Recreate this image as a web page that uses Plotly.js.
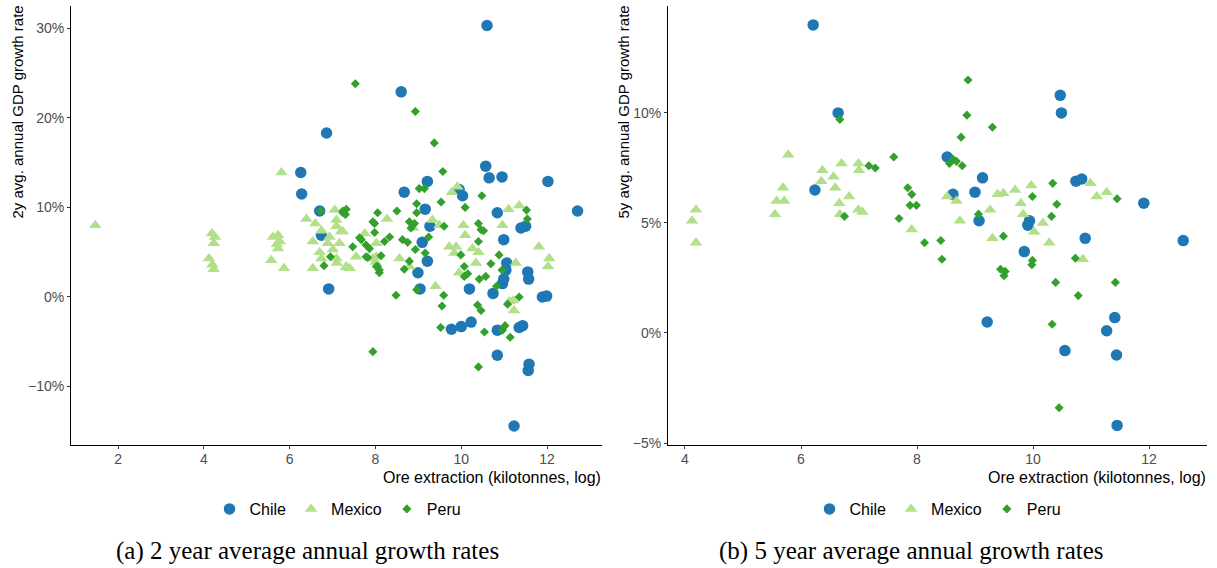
<!DOCTYPE html>
<html>
<head>
<meta charset="utf-8">
<script src="https://cdn.plot.ly/plotly-3.0.1.min.js"></script>
<style>
html,body{margin:0;padding:0;background:#fff;}
#chart{width:1217px;height:568px;}
</style>
</head>
<body>
<div id="chart"></div>
<script>
// ---- Panel (a): 2 year average annual GDP growth rate (%) vs ore extraction (log kt)
const chile2x = [10.60,8.60,6.86,6.26,6.28,6.70,6.74,6.91,8.67,9.21,10.57,10.65,10.95,12.02,12.71,9.16,10.03,9.95,10.84,11.39,11.50,9.27,9.09,10.99,9.21,8.99,11.06,11.04,10.99,10.96,11.55,11.57,10.19,10.74,11.89,11.99,9.04,9.77,10.00,10.23,10.84,11.35,11.43,10.84,11.58,11.56,11.23];
const chile2y = [30.3,22.9,18.3,13.9,11.5,9.6,6.9,0.9,11.7,12.9,14.6,13.3,13.4,12.9,9.6,9.8,11.3,12.0,9.4,7.7,7.9,7.9,6.1,6.4,4.0,2.7,3.8,3.0,2.0,1.5,2.8,2.0,0.9,0.4,0.0,0.1,0.9,-3.6,-3.3,-2.8,-3.7,-3.4,-3.2,-6.5,-7.5,-8.2,-14.4];

const mexico2x = [1.47,4.19,4.26,4.23,4.12,4.20,4.23,5.61,5.73,5.77,5.73,5.57,5.87,5.81,5.70,6.39,6.60,7.05,7.09,7.24,6.74,7.09,6.93,6.54,6.89,7.16,6.70,7.01,6.74,7.09,6.54,7.32,7.40,7.55,7.10,8.02,8.02,8.27,9.33,9.49,10.05,10.09,10.96,11.10,11.35,9.91,9.78,8.88,9.72,9.88,9.84,10.26,10.40,10.34,9.95,11.81,12.05,12.02,11.27,9.40,7.94,8.56,8.79,7.32,7.20,11.12,11.21,11.23,7.75,8.00];
const mexico2y = [8.0,7.1,6.7,6.0,4.3,3.6,3.1,6.7,6.9,6.2,5.4,4.1,3.2,13.9,5.9,8.7,8.2,9.7,8.6,7.3,7.4,7.9,6.7,6.2,6.0,6.0,5.0,5.3,4.3,4.3,3.2,3.3,3.2,4.5,3.8,6.0,4.5,8.7,8.6,8.0,8.0,6.9,8.0,9.8,10.2,12.3,11.7,7.7,5.6,5.6,4.9,5.4,5.0,3.8,2.7,5.6,4.3,3.4,3.8,1.2,4.3,4.3,3.4,3.4,7.3,-0.5,-0.4,-1.5,7.1,3.9];

const peru2x = [7.53,8.93,9.37,9.57,9.02,9.14,10.48,8.96,9.53,10.09,8.50,8.05,7.24,7.32,11.52,8.96,11.54,7.94,8.79,8.91,8.83,9.60,10.40,10.46,10.52,7.98,8.21,8.33,7.67,7.78,7.86,7.47,8.63,8.75,9.24,10.40,8.93,9.16,9.99,10.88,8.13,7.82,8.79,8.05,8.09,8.67,10.07,10.69,10.95,10.15,10.07,10.57,10.42,10.82,8.96,8.48,9.59,9.55,10.38,11.08,11.35,10.46,9.52,10.54,10.96,11.02,11.14,7.94,10.40,6.72,7.24,7.30,6.95,6.80,7.63,7.78,8.02,8.09,7.98];
const peru2y = [23.8,20.7,17.2,14.0,12.1,12.1,11.3,10.4,10.6,10.0,9.6,9.4,9.6,9.8,9.7,9.4,8.7,8.4,8.4,8.2,7.7,7.9,8.2,7.5,7.4,7.2,6.2,6.7,6.4,5.8,5.4,5.6,6.4,6.1,6.7,6.2,5.3,4.9,4.7,4.7,4.6,4.4,4.0,3.4,2.7,3.1,3.4,3.7,3.0,2.6,2.3,2.3,2.0,1.2,0.8,0.2,0.2,-1.0,-0.9,-0.8,0.0,-1.5,-3.4,-3.9,-3.7,-3.2,-4.5,-6.1,-7.8,9.6,9.4,9.2,4.5,3.5,6.6,4.5,3.4,3.0,8.2];

// ---- Panel (b): 5 year average annual GDP growth rate (%)
const chile5x = [6.21,6.64,6.24,8.52,8.62,10.47,10.49,9.13,9.00,9.07,9.94,9.91,10.74,10.84,11.91,12.59,10.90,9.85,9.21,11.41,11.27,10.55,11.44,11.45];
const chile5y = [14.0,10.0,6.5,8.0,6.3,10.8,10.0,7.05,6.4,5.1,5.1,4.9,6.9,7.0,5.9,4.2,4.3,3.7,0.5,0.7,0.1,-0.8,-1.0,-4.2];

const mexico5x = [4.19,4.12,4.19,5.78,5.69,5.58,5.71,5.55,6.37,6.35,6.56,6.59,6.70,6.99,7.00,6.83,6.66,6.67,6.99,7.06,7.91,8.52,8.68,8.74,9.26,9.39,9.49,9.69,9.97,9.79,9.83,10.02,10.17,9.30,10.28,10.99,11.10,11.27,10.86];
const mexico5y = [5.6,5.1,4.1,8.1,6.6,6.0,6.0,5.4,7.4,6.9,7.1,6.6,7.7,7.7,7.4,6.2,5.9,5.4,5.6,5.5,4.7,6.2,6.0,5.1,5.6,6.3,6.35,6.5,6.7,5.9,5.4,4.6,5.0,4.3,4.1,6.8,6.2,6.4,3.35];

const peru5x = [6.67,7.17,7.28,7.60,7.84,7.91,7.88,7.99,6.75,7.69,8.13,8.41,8.43,8.62,8.56,8.76,8.88,8.86,9.30,8.68,8.78,9.06,9.49,9.44,9.52,9.50,9.99,9.99,9.98,10.34,10.41,10.32,10.73,10.39,10.78,10.33,11.42,11.45,10.45];
const peru5y = [9.7,7.6,7.5,8.0,6.6,6.3,5.8,5.8,5.3,5.2,4.1,4.2,3.35,7.9,7.7,8.9,11.5,9.9,9.35,7.8,7.6,5.4,4.4,2.9,2.8,2.6,6.2,3.3,3.1,6.8,5.85,5.3,3.4,2.3,1.7,0.4,2.3,6.1,-3.4];

const countries = ["Chile","Mexico","Peru"];
const yTicks2 = [-10,0,10,20,30];
const yTicks5 = [-5,0,5,10];
const xTicks2 = [2,4,6,8,10,12];
const xTicks5 = [4,6,8,10,12];
const pctLabel = v => (v < 0 ? "\u2212" + Math.abs(v) : String(v)) + "%";

const colors = {Chile:"#1f78b4", Mexico:"#b2df8a", Peru:"#33a02c"};
const symbols = {Chile:"circle", Mexico:"triangle-up", Peru:"diamond"};
const sizes = {Chile:11.5, Mexico:11, Peru:7};

function tr(name, x, y, xa, ya, leg){
  return {
    type:"scatter", mode:"markers", name:name, x:x, y:y,
    xaxis:xa, yaxis:ya, legend:leg,
    marker:{color:colors[name], symbol:symbols[name], size:sizes[name], line:{width:0}},
    hoverinfo:"x+y+name"
  };
}

const data = [
  tr("Chile", chile2x, chile2y, "x", "y", "legend"),
  tr("Mexico", mexico2x, mexico2y, "x", "y", "legend"),
  tr("Peru", peru2x, peru2y, "x", "y", "legend"),
  tr("Chile", chile5x, chile5y, "x2", "y2", "legend2"),
  tr("Mexico", mexico5x, mexico5y, "x2", "y2", "legend2"),
  tr("Peru", peru5x, peru5y, "x2", "y2", "legend2")
];

const W = 1217, H = 568;
const px = v => v / W;
const py = v => 1 - v / H;

const tickFont = {family:"Liberation Sans, Arial, sans-serif", size:14, color:"#4d4d4d"};
const axBase = {
  showline:true, linecolor:"#000", linewidth:1, mirror:false,
  ticks:"outside", ticklen:3, tickwidth:1, tickcolor:"#333",
  showgrid:false, zeroline:false, tickfont:tickFont, fixedrange:true
};

const xTitleFont = {family:"Liberation Sans, Arial, sans-serif", size:16, color:"#000"};
const yTitleFont = {family:"Liberation Sans, Arial, sans-serif", size:15, color:"#000"};
const legFont = {family:"Liberation Sans, Arial, sans-serif", size:16, color:"#000"};
const capFont = {family:"Liberation Serif, DejaVu Serif, serif", size:25, color:"#000"};

const layout = {
  width:W, height:H,
  margin:{l:0, r:0, t:0, b:0},
  paper_bgcolor:"#fff", plot_bgcolor:"#fff",
  showlegend:true,
  xaxis: Object.assign({}, axBase, {domain:[px(71), px(602)], range:[0.904, 13.28], tickvals:xTicks2, ticklabelstandoff:-2, anchor:"y"}),
  yaxis: Object.assign({}, axBase, {domain:[py(445), py(6)], range:[-16.52, 32.48], tickvals:yTicks2, ticktext:yTicks2.map(pctLabel), anchor:"x"}),
  xaxis2: Object.assign({}, axBase, {domain:[px(668), px(1207)], range:[3.707, 13.0], tickvals:xTicks5, ticklabelstandoff:-2, anchor:"y2"}),
  yaxis2: Object.assign({}, axBase, {domain:[py(445), py(6)], range:[-5.09, 14.86], tickvals:yTicks5, ticktext:yTicks5.map(pctLabel), anchor:"x2"}),
  legend:{orientation:"h", x:px(338), xanchor:"center", y:py(509), yanchor:"middle", font:legFont, bgcolor:"rgba(0,0,0,0)", itemwidth:30, tracegroupgap:0},
  legend2:{orientation:"h", x:px(938), xanchor:"center", y:py(509), yanchor:"middle", font:legFont, bgcolor:"rgba(0,0,0,0)", itemwidth:30, tracegroupgap:0},
  annotations:[
    {xref:"paper", yref:"paper", x:px(603), y:py(477), xanchor:"right", yanchor:"middle", text:"Ore extraction (kilotonnes, log)", showarrow:false, font:xTitleFont},
    {xref:"paper", yref:"paper", x:px(1208), y:py(477), xanchor:"right", yanchor:"middle", text:"Ore extraction (kilotonnes, log)", showarrow:false, font:xTitleFont},
    {xref:"paper", yref:"paper", x:px(17), y:py(4), xanchor:"center", yanchor:"top", textangle:-90, text:"2y avg. annual GDP growth rate", showarrow:false, font:yTitleFont},
    {xref:"paper", yref:"paper", x:px(623), y:py(4), xanchor:"center", yanchor:"top", textangle:-90, text:"5y avg. annual GDP growth rate", showarrow:false, font:yTitleFont},
    {xref:"paper", yref:"paper", x:px(307), y:py(551), xanchor:"center", yanchor:"middle", text:"(a) 2 year average annual growth rates", showarrow:false, font:capFont},
    {xref:"paper", yref:"paper", x:px(911), y:py(551), xanchor:"center", yanchor:"middle", text:"(b) 5 year average annual growth rates", showarrow:false, font:capFont}
  ]
};

Plotly.newPlot("chart", data, layout, {displayModeBar:false, staticPlot:true});
</script>
</body>
</html>
